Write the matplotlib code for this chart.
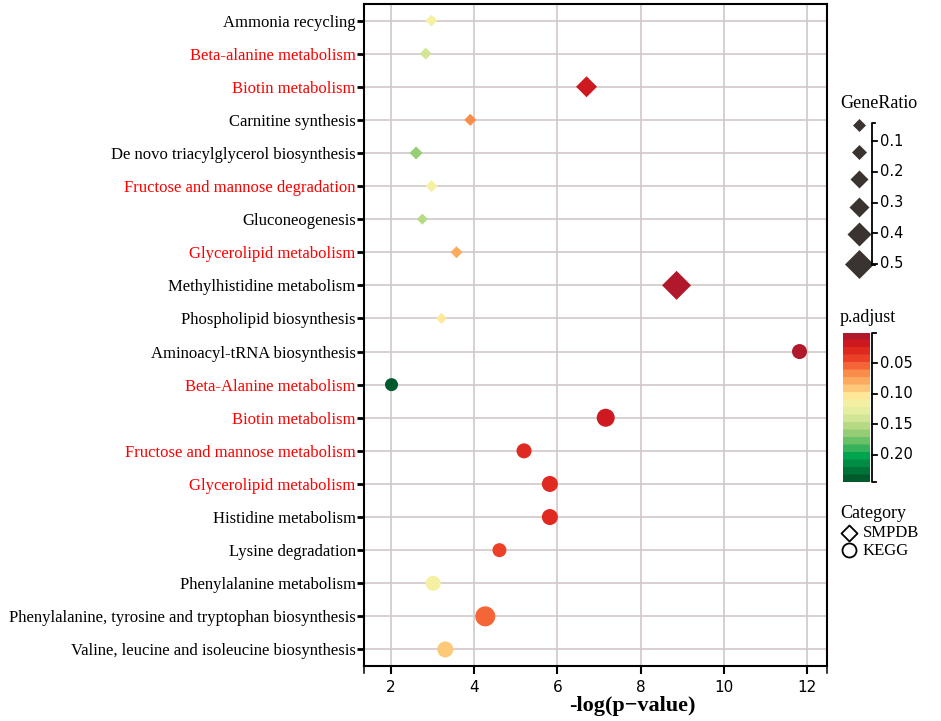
import numpy as np
import matplotlib.pyplot as plt
from matplotlib.colors import LinearSegmentedColormap, Normalize

pathways = [
    'Ammonia recycling', 'Beta-alanine metabolism', 'Biotin metabolism',
    'Carnitine synthesis', 'De novo triacylglycerol biosynthesis',
    'Fructose and mannose degradation', 'Gluconeogenesis',
    'Glycerolipid metabolism', 'Methylhistidine metabolism',
    'Phospholipid biosynthesis', 'Aminoacyl-tRNA biosynthesis',
    'Beta-Alanine metabolism', 'Biotin metabolism',
    'Fructose and mannose metabolism', 'Glycerolipid metabolism',
    'Histidine metabolism', 'Lysine degradation', 'Phenylalanine metabolism',
    'Phenylalanine, tyrosine and tryptophan biosynthesis',
    'Valine, leucine and isoleucine biosynthesis',
]
highlighted = [False, True, True, False, False, True, False, True, False, False,
               False, True, True, True, True, False, False, False, False, False]
category = ['SMPDB'] * 10 + ['KEGG'] * 10
neg_log_p = [2.98, 2.84, 6.70, 3.91, 2.61, 2.98, 2.76, 3.58, 8.86, 3.22,
             11.81, 2.02, 7.16, 5.20, 5.82, 5.82, 4.61, 3.02, 4.27, 3.31]
gene_ratio = [0.075, 0.075, 0.30, 0.075, 0.10, 0.075, 0.05, 0.075, 0.50, 0.05,
              0.15, 0.10, 0.225, 0.15, 0.175, 0.175, 0.125, 0.15, 0.275, 0.175]
p_adjust = [0.12, 0.14, 0.018, 0.063, 0.17, 0.115, 0.15, 0.085, 0.008, 0.10,
            0.005, 0.238, 0.014, 0.03, 0.026, 0.026, 0.045, 0.115, 0.05, 0.095]

x_ticks = [2, 4, 6, 8, 10, 12]
ratio_ticks = [0.1, 0.2, 0.3, 0.4, 0.5]
ratio_keys = [0.1, 0.15, 0.225, 0.275, 0.375, 0.5]
padj_ticks = [0.05, 0.10, 0.15, 0.20]
padj_max = 0.245

cmap = LinearSegmentedColormap.from_list('padj', [
    (0.0, '#b2182b'), (0.07, '#d7191c'), (0.17, '#f0452a'), (0.26, '#f98b48'),
    (0.35, '#fdbe6e'), (0.44, '#fef3a4'), (0.55, '#dfeca0'), (0.66, '#a9d47a'),
    (0.76, '#58ba62'), (0.84, '#00a651'), (0.92, '#00803c'), (1.0, '#005a2b')]).resampled(20)
norm = Normalize(0, padj_max)


def width_px(g):
    return 9 + 40 * np.asarray(g)


serif = 'Liberation Serif'
fig = plt.figure(figsize=(9.41, 7.21), dpi=100)
ax = fig.add_axes([364 / 941, 1 - 666 / 721, 463 / 941, 662 / 721])

n = len(pathways)
ypos = np.arange(n, 0, -1)
df_x = np.array(neg_log_p)
df_g = np.array(gene_ratio)
df_c = cmap(norm(np.array(p_adjust)))
cat = np.array(category)

for name, marker, k in [('SMPDB', 'D', 0.72 / 1.414), ('KEGG', 'o', 0.72)]:
    m = cat == name
    ax.scatter(df_x[m], ypos[m], s=(width_px(df_g[m]) * k) ** 2, c=df_c[m],
               marker=marker, linewidths=0, zorder=3)

ax.set_xlim(1.36, 12.47)
ax.set_ylim(0.5, n + 0.5)
ax.set_xticks(x_ticks)
ax.set_yticks(ypos)
ax.set_yticklabels(pathways, fontsize=12, family=serif)
for lab, hl in zip(ax.get_yticklabels(), highlighted):
    lab.set_color('#ff0000' if hl else 'black')
ax.tick_params(axis='x', labelsize=11, length=6, width=1.5, pad=4)
ax.tick_params(axis='y', length=5, width=2, pad=1)
ax.grid(True, color='#d2c8c8', linewidth=1.2, zorder=0)
ax.set_axisbelow(True)
for sp in ax.spines.values():
    sp.set_linewidth(1.5)
ax.set_xlabel('-log(p\u2212value)', fontsize=16, family=serif, fontweight='bold')
ax.xaxis.set_label_coords(0.58, -0.045)

# overlay in pixel coords for legends
lax = fig.add_axes([0, 0, 1, 1])
lax.set_xlim(0, 941)
lax.set_ylim(721, 0)
lax.axis('off')

# end ticks on the x axis
for xe in (364, 827):
    lax.plot([xe, xe], [666, 673], color='black', lw=1.1)

# GeneRatio legend
lax.text(840, 104, 'GeneRatio', fontsize=13, family=serif, va='center')
key_y = [125, 152, 179, 207, 234, 264]
for g, yk in zip(ratio_keys, key_y):
    lax.scatter(859, yk, s=(width_px(g) * 0.72 / 1.414) ** 2, marker='D',
                color='#3b332f', linewidths=0)
lax.plot([875, 872, 872, 875], [123, 123, 265, 265], color='black', lw=1.3)
for r in ratio_ticks:
    yt = 141 + (r - 0.1) / 0.4 * 123
    lax.plot([872, 877], [yt, yt], color='black', lw=1.3)
    lax.text(880, yt, f'{r:.1f}', fontsize=10.5, va='center')

# p.adjust colorbar
lax.text(840, 318, 'p.adjust', fontsize=13, family=serif, va='center')
cax = fig.add_axes([843 / 941, 1 - 482 / 721, 27 / 941, 149 / 721])
cax.imshow(np.linspace(0, padj_max, 200).reshape(-1, 1), cmap=cmap, norm=norm,
           aspect='auto', origin='upper')
cax.axis('off')
lax.plot([876, 872, 872, 876], [333, 333, 482, 482], color='black', lw=1.3)
for p in padj_ticks:
    yt = 333 + p / padj_max * 149
    lax.plot([872, 877], [yt, yt], color='black', lw=1.3)
    lax.text(880, yt, f'{p:.2f}', fontsize=10.5, va='center')

# Category legend
lax.text(840, 513, 'Category', fontsize=13, family=serif, va='center')
lax.scatter(849, 533, s=(16 * 0.72 / 1.414) ** 2, marker='D', facecolors='white',
            edgecolors='black', linewidths=1.3)
lax.scatter(849, 550, s=(14 * 0.72) ** 2, marker='o', facecolors='white',
            edgecolors='black', linewidths=1.3)
lax.text(863, 533, 'SMPDB', fontsize=12, family=serif, va='center')
lax.text(863, 551, 'KEGG', fontsize=12, family=serif, va='center')

fig.savefig('out.png', dpi=100)
